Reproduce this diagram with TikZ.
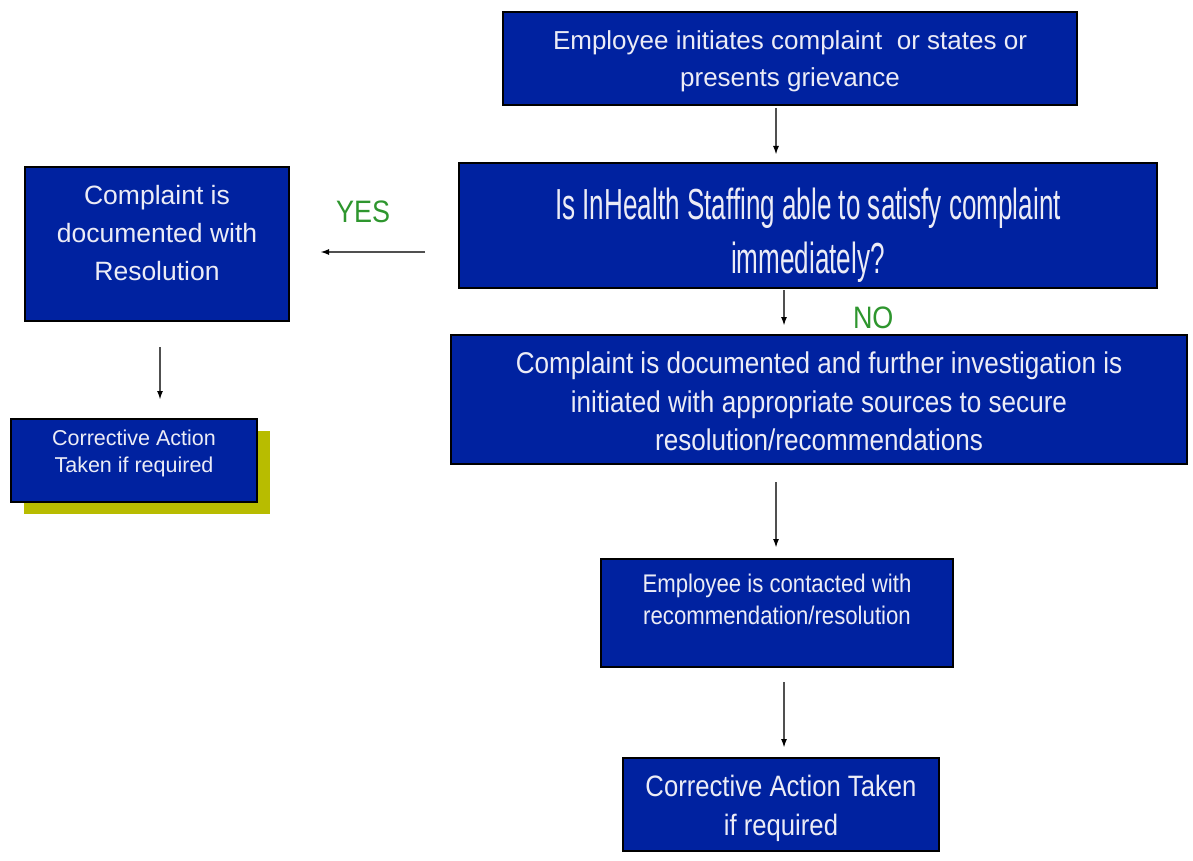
\documentclass[tikz,border=0pt]{standalone}
\usepackage{fontspec}
\setmainfont{Liberation Sans}
\newfontfamily\narrowfont[FakeStretch=0.6]{Liberation Sans}
\newfontfamily\slimfont[FakeStretch=0.87]{Liberation Sans}
\usetikzlibrary{arrows.meta, positioning, calc, shadows}
\definecolor{cfblue}{RGB}{0,34,160}
\definecolor{cfolive}{RGB}{184,188,0}
\definecolor{cfgreen}{RGB}{46,150,46}
\definecolor{cftext}{RGB}{236,236,246}
\definecolor{cfline}{RGB}{80,80,80}

\begin{document}
\begin{tikzpicture}[x=1pt, y=-1pt,
    box/.style={rectangle, draw=black, line width=2pt, fill=cfblue, text=cftext,
        align=center, inner sep=0pt},
    boxtext/.style={text=cftext, align=center, inner sep=0pt},
    arrow/.style={-{Latex[length=9pt, width=6pt, color=black]}, line width=2pt, color=cfline},
    answer/.style={text=cfgreen, inner sep=0pt, font=\slimfont\fontsize{31}{31}\selectfont}
]
\path[fill=white, use as bounding box] (0,0) rectangle (1193,861);

\node[box, minimum width=574pt, minimum height=93pt,
    label={[boxtext, yshift=-3pt, font=\fontsize{26}{37}\selectfont]center:{Employee initiates complaint\ \ or states or\\presents grievance}}]
    (start) at (790,58.5) {};
\node[box, minimum width=698pt, minimum height=125pt,
    label={[boxtext, yshift=-9.5pt, font=\narrowfont\fontsize{43.5}{54}\selectfont]center:{Is InHealth Staffing able to satisfy complaint\\immediately?}}]
    (decide) at (808,225.5) {};
\node[box, minimum width=264pt, minimum height=154pt,
    label={[boxtext, yshift=11pt, font=\fontsize{26.5}{38}\selectfont]center:{Complaint is\\documented with\\Resolution}}]
    (resolved) at (157,244) {};
\node[box, minimum width=246pt, minimum height=83pt,
    drop shadow={shadow xshift=13pt, shadow yshift=-12pt, fill=cfolive, opacity=1},
    label={[boxtext, yshift=7.5pt, font=\fontsize{21.5}{27}\selectfont]center:{Corrective Action\\Taken if required}}]
    (fixleft) at (134,460.5) {};
\node[box, minimum width=736pt, minimum height=129pt,
    label={[boxtext, yshift=-2pt, font=\slimfont\fontsize{30}{38.5}\selectfont]center:{Complaint is documented and further investigation is\\initiated with appropriate sources to secure\\resolution/recommendations}}]
    (investigate) at (819,399.5) {};
\node[box, minimum width=352pt, minimum height=108pt,
    label={[boxtext, yshift=14pt, font=\slimfont\fontsize{25.5}{32}\selectfont]center:{Employee is contacted with\\recommendation/resolution}}]
    (contact) at (777,613) {};
\node[box, minimum width=316pt, minimum height=93pt,
    label={[boxtext, yshift=-4pt, font=\slimfont\fontsize{29.5}{39}\selectfont]center:{Corrective Action Taken\\if required}}]
    (fixright) at (781,804.5) {};

% connectors, offset from the box centres
\draw[arrow, shorten <=2pt, shorten >=7pt] ([xshift=-14pt]start.south) -- ([xshift=-14pt]start.south |- decide.north);
\draw[arrow, shorten <=33pt, shorten >=30pt] ([yshift=-26.5pt]decide.west) -- ([yshift=-26.5pt]decide.west -| resolved.east)
    node[answer, pos=0.565, above=28pt] {YES};
\draw[arrow, shorten <=1pt, shorten >=8pt] ([xshift=-24pt]decide.south) -- ([xshift=-24pt]decide.south |- investigate.north)
    node[answer, pos=0.64, right=68pt] {NO};
\draw[arrow, shorten <=25pt, shorten >=18pt] ([xshift=3pt]resolved.south) -- ([xshift=3pt]resolved.south |- fixleft.north);
\draw[arrow, shorten <=17pt, shorten >=10pt] ([xshift=-1pt]contact.north |- investigate.south) -- ([xshift=-1pt]contact.north);
\draw[arrow, shorten <=14pt, shorten >=9pt] ([xshift=3pt]fixright.north |- contact.south) -- ([xshift=3pt]fixright.north);
\end{tikzpicture}
\end{document}
